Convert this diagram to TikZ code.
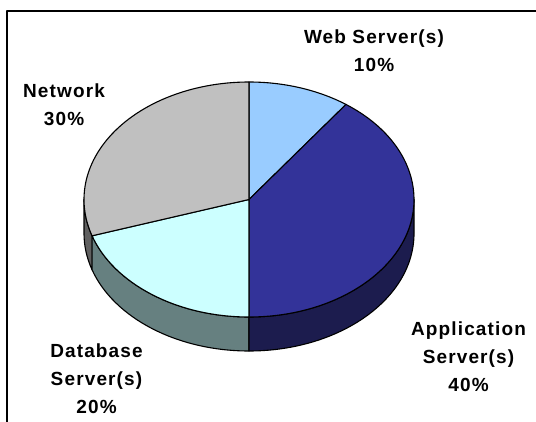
\documentclass[tikz,border=0pt]{standalone}
\usepackage{fontspec}
\setmainfont{Liberation Sans}[LetterSpace=6]

\definecolor{webtop}{HTML}{99CCFF}
\definecolor{apptop}{HTML}{333399}
\definecolor{appside}{HTML}{1C1C4E}
\definecolor{dbtop}{HTML}{CCFFFF}
\definecolor{dbside}{HTML}{668080}
\definecolor{nettop}{HTML}{C0C0C0}
\definecolor{netside}{HTML}{606060}

\begin{document}
\begin{tikzpicture}[x=1pt,y=1pt,line join=round]
      \tikzstyle{slice}=[draw=black,line width=1.1pt];
      \tikzstyle{lbl}=[align=center,inner sep=0pt,font=\fontsize{19}{28}\selectfont\bfseries];
        \useasboundingbox (0,0) rectangle (536,-422);
        \draw[line width=2pt] (7,-422) -- (7,-11) -- (536,-11);

        \coordinate (c) at (249,-199.5);
        \coordinate (d) at (249,-233.5);

        % sides
        \path[slice,fill=netside] (c) ++(180:165 and 117.5) arc[start angle=180,end angle=198,x radius=165,y radius=117.5] -- ++(0,-34) arc[start angle=198,end angle=180,x radius=165,y radius=117.5] -- cycle;
        \path[slice,fill=dbside] (c) ++(198:165 and 117.5) arc[start angle=198,end angle=270,x radius=165,y radius=117.5] -- ++(0,-34) arc[start angle=270,end angle=198,x radius=165,y radius=117.5] -- cycle;
        \path[slice,fill=appside] (c) ++(270:165 and 117.5) arc[start angle=270,end angle=360,x radius=165,y radius=117.5] -- ++(0,-34) arc[start angle=360,end angle=270,x radius=165,y radius=117.5] -- cycle;

        % top
        \path[slice,fill=webtop] (c) -- ++(54:165 and 117.5) arc[start angle=54,end angle=90,x radius=165,y radius=117.5] -- cycle;
        \path[slice,fill=apptop] (c) -- ++(-90:165 and 117.5) arc[start angle=-90,end angle=54,x radius=165,y radius=117.5] -- cycle;
        \path[slice,fill=dbtop] (c) -- ++(198:165 and 117.5) arc[start angle=198,end angle=270,x radius=165,y radius=117.5] -- cycle;
        \path[slice,fill=nettop] (c) -- ++(90:165 and 117.5) arc[start angle=90,end angle=198,x radius=165,y radius=117.5] -- cycle;

        \node[lbl] (web) at (374,-51) {Web Server(s)\\10\%};
        \node[lbl] (net) at (64,-105) {Network\\30\%};
        \node[lbl] (app) at (468.5,-356.5) {Application\\Server(s)\\40\%};
        \node[lbl] (db) at (96.5,-379) {Database\\Server(s)\\20\%};
    \end{tikzpicture}
\end{document}
